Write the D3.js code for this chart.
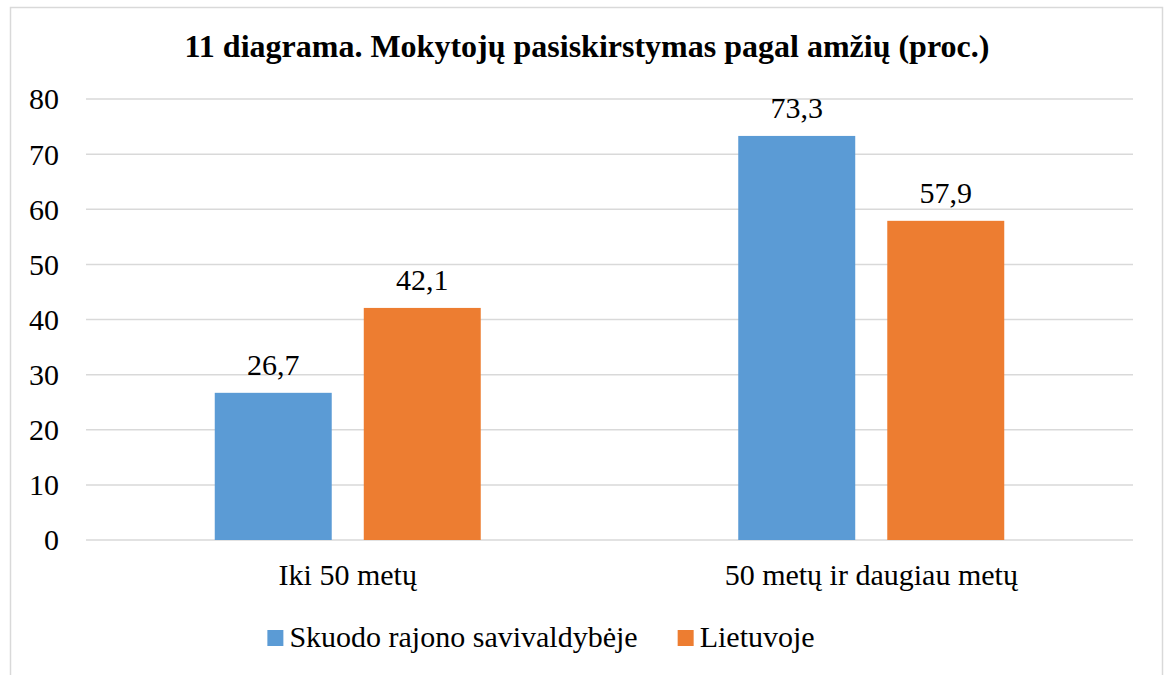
<!DOCTYPE html>
<html>
<head>
<meta charset="utf-8">
<script src="https://cdn.jsdelivr.net/npm/d3@7"></script>
<style>
    body { margin: 0; background: #fff; }
</style>
</head>
<body>
<div id="chart"></div>
<script>
// data
const categories = ["Iki 50 metų", "50 metų ir daugiau metų"];
const seriesNames = ["Skuodo rajono savivaldybėje", "Lietuvoje"];
const skuodas = [26.7, 73.3];
const lietuva = [42.1, 57.9];
const yTicks = [0, 10, 20, 30, 40, 50, 60, 70, 80];
const colors = ["#5B9BD5", "#ED7D31"];

const FONT = "'Times New Roman'";
const width = 1167, height = 675;
const margin = { top: 99, right: 34, bottom: 135, left: 86 };

// every label goes through this so the serif face is set the same way
function serif(sel, size) {
    return sel.attr("font-family", FONT)
        .style("font-family", FONT)
        .style("font-size", size + "px");
}

const svg = d3.select("#chart")
    .append("svg")
    .attr("width", width)
    .attr("height", height);

// outer border of the chart area
svg.append("rect")
    .attr("x", 10.5)
    .attr("y", 7.5)
    .attr("width", 1152)
    .attr("height", 700)
    .attr("fill", "none")
    .attr("stroke", "#d9d9d9")
    .attr("stroke-width", 1.5);

svg.append("text")
    .attr("x", 587)
    .attr("y", 57)
    .attr("text-anchor", "middle")
    .call(serif, 32)
    .style("font-weight", "bold")
    .text("11 diagrama. Mokytojų pasiskirstymas pagal amžių (proc.)");

const y = d3.scaleLinear()
    .domain([0, 80])
    .range([height - margin.bottom, margin.top]);

const x0 = d3.scaleBand()
    .domain(categories)
    .range([margin.left, width - margin.right])
    .padding(0);

const groupW = 266;
const x1 = d3.scaleBand()
    .domain(seriesNames)
    .range([(x0.bandwidth() - groupW) / 2, (x0.bandwidth() + groupW) / 2])
    .paddingInner(0.215)
    .paddingOuter(0);

// gridlines
svg.append("g")
    .selectAll("line")
    .data(yTicks)
    .enter()
    .append("line")
    .attr("x1", margin.left)
    .attr("x2", width - margin.right)
    .attr("y1", d => y(d))
    .attr("y2", d => y(d))
    .attr("stroke", "#d9d9d9")
    .attr("stroke-width", 1.5);

// y axis labels
const yAxis = d3.axisLeft(y).tickValues(yTicks).tickSize(0).tickPadding(0);
const yg = svg.append("g")
    .attr("transform", `translate(59,0)`)
    .call(yAxis)
    .attr("font-family", FONT);
yg.select(".domain").remove();
yg.selectAll("text")
    .call(serif, 30)
    .attr("dy", "0.33em")
    .attr("fill", "#000");

const rows = categories.map((c, i) => ({
    cat: c,
    vals: [skuodas[i], lietuva[i]]
}));

const groups = svg.append("g")
    .selectAll("g")
    .data(rows)
    .enter()
    .append("g")
    .attr("transform", d => `translate(${x0(d.cat)},0)`);

groups.selectAll("rect")
    .data(d => d.vals.map((v, j) => ({ name: seriesNames[j], value: v, idx: j })))
    .enter()
    .append("rect")
    .attr("x", d => x1(d.name))
    .attr("width", x1.bandwidth())
    .attr("y", d => y(d.value))
    .attr("height", d => y(0) - y(d.value))
    .attr("fill", d => colors[d.idx]);

groups.selectAll("text.val")
    .data(d => d.vals.map((v, j) => ({ name: seriesNames[j], value: v })))
    .enter()
    .append("text")
    .attr("class", "val")
    .attr("x", d => x1(d.name) + x1.bandwidth() / 2)
    .attr("y", d => y(d.value) - 18)
    .attr("text-anchor", "middle")
    .call(serif, 30)
    .text(d => d.value.toFixed(1).replace(".", ","));

// category labels
const xAxis = d3.axisBottom(x0).tickSize(0).tickPadding(0);
const xg = svg.append("g")
    .attr("transform", `translate(0,${y(0)})`)
    .call(xAxis)
    .attr("font-family", FONT);
xg.select(".domain").remove();
xg.selectAll("text")
    .call(serif, 30)
    .attr("dy", null)
    .attr("y", 45)
    .attr("fill", "#000");

// legend, laid out from the measured text widths and centred like the original
const legendCenter = 541;
const legend = svg.append("g");
const items = legend.selectAll("g")
    .data(seriesNames)
    .enter()
    .append("g");

items.append("rect")
    .attr("y", 630)
    .attr("width", 16)
    .attr("height", 16)
    .attr("fill", (d, i) => colors[i]);

items.append("text")
    .attr("x", 22)
    .attr("y", 647)
    .call(serif, 30)
    .text(d => d);

let offset = 0;
const itemX = [];
items.each(function () {
    itemX.push(offset);
    const w = d3.select(this).select("text").node().getComputedTextLength();
    offset += 22 + w + 40;
});
const total = offset - 40;
items.attr("transform", (d, i) => `translate(${legendCenter - total / 2 + itemX[i]},0)`);
</script>
</body>
</html>
